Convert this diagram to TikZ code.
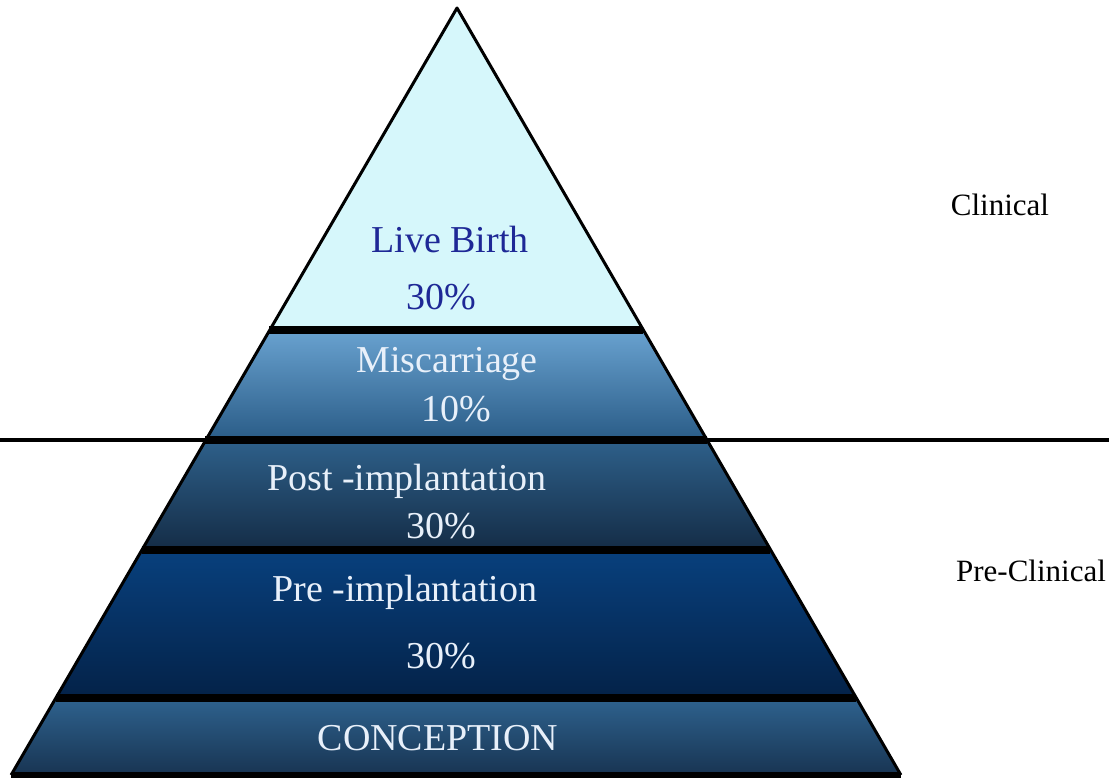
\documentclass[tikz,border=0pt]{standalone}
\usepackage{fontspec}
\setmainfont{Liberation Serif}
\definecolor{lbfill}{RGB}{214,247,251}
\definecolor{lbtext}{RGB}{30,40,150}
\definecolor{miTop}{RGB}{105,162,208}
\definecolor{miBot}{RGB}{42,92,135}
\definecolor{poTop}{RGB}{46,96,138}
\definecolor{poBot}{RGB}{20,44,70}
\definecolor{prTop}{RGB}{8,64,125}
\definecolor{prBot}{RGB}{4,34,72}
\definecolor{coTop}{RGB}{46,98,142}
\definecolor{coBot}{RGB}{24,52,82}
\definecolor{lighttext}{RGB}{232,240,250}
\tikzset{
  band/.style={line width=8pt, black},
  edge/.style={line width=3pt, black, line join=round},
  big/.style={font=\fontsize{38}{44}\selectfont, inner sep=0pt},
  side/.style={font=\fontsize{31}{36}\selectfont, inner sep=0pt, text=black},
}
\begin{document}
\begin{tikzpicture}[x=1pt,y=-1pt]
\useasboundingbox (0,0) rectangle (1109,778);
% corner coordinates
\coordinate (apex) at (457,8);
\coordinate (l1) at (269.2,330); \coordinate (r1) at (642.8,330);
\coordinate (l2) at (205.4,440); \coordinate (r2) at (706.6,440);
\coordinate (l3) at (141.6,550); \coordinate (r3) at (770.4,550);
\coordinate (l4) at (55.8,698);  \coordinate (r4) at (856.2,698);
\coordinate (l5) at (11.1,775);  \coordinate (r5) at (900.9,775);
% fills
\fill[lbfill] (apex) -- (r1) -- (l1) -- cycle;
\shade[top color=miTop, bottom color=miBot] (l1) -- (r1) -- (r2) -- (l2) -- cycle;
\shade[top color=poTop, bottom color=poBot] (l2) -- (r2) -- (r3) -- (l3) -- cycle;
\shade[top color=prTop, bottom color=prBot] (l3) -- (r3) -- (r4) -- (l4) -- cycle;
\shade[top color=coTop, bottom color=coBot] (l4) -- (r4) -- (r5) -- (l5) -- cycle;
% separator bands
\draw[band] (l1) -- (r1);
\draw[band] (l2) -- (r2);
\draw[band] (l3) -- (r3);
\draw[band] (l4) -- (r4);
\draw[line width=6pt] (l5) -- (r5);
% outline
\draw[edge] (l5) -- (apex) -- (r5);
% full-width clinical line
\coordinate (hl) at (0,440); \coordinate (hr) at (1109,440);
\draw[line width=3.5pt] (hl) -- (hr);
% texts
\node[big, text=lbtext] (lb) at (450,240) {Live Birth};
\node[big, text=lbtext] (lbp) at (441,297) {30\%};
\node[big, text=lighttext] (mi) at (447,364) {Miscarriage};
\node[big, text=lighttext] (mip) at (456,409) {10\%};
\node[big, text=lighttext] (po) at (407,481) {Post -implantation};
\node[big, text=lighttext] (pop) at (441,526) {30\%};
\node[big, text=lighttext] (pr) at (405,592) {Pre -implantation};
\node[big, text=lighttext] (prp) at (441,656) {30\%};
\node[big, text=lighttext] (co) at (438,738) {CONCEPTION};
\node[side] (cl) at (1000,205) {Clinical};
\node[side] (pc) at (1031,571) {Pre-Clinical};
\end{tikzpicture}
\end{document}
